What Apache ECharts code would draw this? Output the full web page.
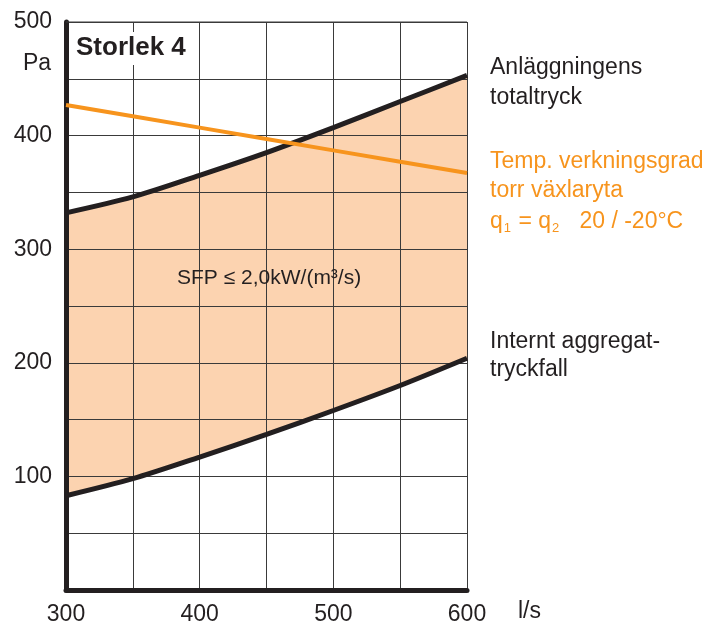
<!DOCTYPE html>
<html>
<head>
<meta charset="utf-8">
<script src="https://cdn.jsdelivr.net/npm/echarts@6/dist/echarts.min.js"></script>
<style>
  html, body { margin: 0; padding: 0; background: #fff; }
  #chart { width: 724px; height: 626px; }
</style>
</head>
<body>
<div id="chart"></div>
<script>
  // luftflöde l/s
  var flow = [300, 350, 400, 450, 500, 550, 600]
  // Anläggningens totaltryck (Pa)
  var totalPressure = [332, 346, 365, 385, 407, 430, 453]
  // Internt aggregattryckfall (Pa)
  var internalDrop = [83, 98, 117, 137, 158, 180, 204]
  // Temp. verkningsgrad (linje i samma skala)
  var efficiency = [427, 417, 407, 397, 387, 377, 367]
  var yTickLabels = [100, 200, 300, 400, 500]
  var xTickLabels = [300, 400, 500, 600]

  var font = 'Liberation Sans, Arial, Helvetica, sans-serif'
  var dark = '#231f20'
  var orange = '#f7941d'
  var peach = '#fcd3b0'

  function pairs(ys) {
    return flow.map(function (x, i) { return [x, ys[i]] })
  }

  var chart = echarts.init(document.getElementById('chart'))
  var option = {
    backgroundColor: '#fff',
    animation: false,
    grid: { left: 66, top: 22, right: 257, bottom: 36 },
    xAxis: {
      type: 'value',
      min: 300,
      max: 600,
      interval: 50,
      z: 10,
      axisLine: { show: true, onZero: false, lineStyle: { color: dark, width: 5 } },
      axisTick: { show: false },
      splitLine: { show: true, lineStyle: { color: '#3a3a3a', width: 1 } },
      axisLabel: {
        margin: 13,
        fontFamily: font,
        fontSize: 23,
        color: dark,
        formatter: function (v) { return xTickLabels.indexOf(v) >= 0 ? String(v) : '' }
      }
    },
    yAxis: {
      type: 'value',
      min: 0,
      max: 500,
      interval: 50,
      z: 10,
      axisLine: { show: true, lineStyle: { color: dark, width: 5 } },
      axisTick: { show: false },
      splitLine: { show: true, lineStyle: { color: '#3a3a3a', width: 1 } },
      axisLabel: {
        margin: 14,
        fontFamily: font,
        fontSize: 23,
        color: dark,
        formatter: function (v) { return yTickLabels.indexOf(v) >= 0 ? String(v) : '' }
      }
    },
    series: [
      {
        name: 'fill-upper',
        type: 'line',
        data: pairs(totalPressure),
        smooth: 0.3,
        symbol: 'none',
        z: 1,
        lineStyle: { width: 0 },
        areaStyle: { color: peach, opacity: 1 }
      },
      {
        name: 'fill-lower',
        type: 'line',
        data: pairs(internalDrop),
        smooth: 0.3,
        symbol: 'none',
        z: 1,
        lineStyle: { width: 0 },
        areaStyle: { color: '#ffffff', opacity: 1 }
      },
      {
        name: 'Anläggningens totaltryck',
        type: 'line',
        data: pairs(totalPressure),
        smooth: 0.3,
        symbol: 'none',
        z: 20,
        lineStyle: { color: dark, width: 5 }
      },
      {
        name: 'Internt aggregattryckfall',
        type: 'line',
        data: pairs(internalDrop),
        smooth: 0.3,
        symbol: 'none',
        z: 20,
        lineStyle: { color: dark, width: 5 }
      },
      {
        name: 'Temp. verkningsgrad',
        type: 'line',
        data: pairs(efficiency),
        symbol: 'none',
        z: 21,
        lineStyle: { color: orange, width: 4 }
      }
    ],
    graphic: [
      { type: 'line', z: 30, shape: { x1: 66, y1: 22, x2: 467, y2: 22 }, style: { stroke: '#3a3a3a', lineWidth: 1 } },
      // vit platta bakom rubriken
      { type: 'rect', z: 35, shape: { x: 72, y: 32, width: 120, height: 33 }, style: { fill: '#fff' } },
      { type: 'text', left: 76, top: 35, z: 40, style: { text: 'Storlek 4', font: 'bold 26px ' + font, fill: dark } },
      { type: 'text', left: 23, top: 52, z: 40, style: { text: 'Pa', font: '23px ' + font, fill: dark } },
      { type: 'text', left: 518, top: 600, z: 40, style: { text: 'l/s', font: '23px ' + font, fill: dark } },
      { type: 'text', left: 177, top: 268, z: 40, style: { text: 'SFP ≤ 2,0kW/(m³/s)', font: '21px ' + font, fill: dark } },
      { type: 'text', left: 490, top: 53, z: 40, style: { text: 'Anläggningens\ntotaltryck', font: '23px ' + font, fill: dark, lineHeight: 30 } },
      { type: 'text', left: 490, top: 147, z: 40, style: { text: 'Temp. verkningsgrad\ntorr växlaryta', font: '23px ' + font, fill: orange, lineHeight: 29 } },
      {
        type: 'text', left: 490, top: 210, z: 40,
        style: {
          text: 'q{s|1} = q{s|2}   20 / -20°C',
          font: '23px ' + font,
          fill: orange,
          rich: {
            s: { fontSize: 13, fontFamily: font, fill: orange, padding: [14, 1, 0, 1] }
          }
        }
      },
      { type: 'text', left: 490, top: 328, z: 40, style: { text: 'Internt aggregat-\ntryckfall', font: '23px ' + font, fill: dark, lineHeight: 28 } }
    ]
  }
  chart.setOption(option)
</script>
</body>
</html>
